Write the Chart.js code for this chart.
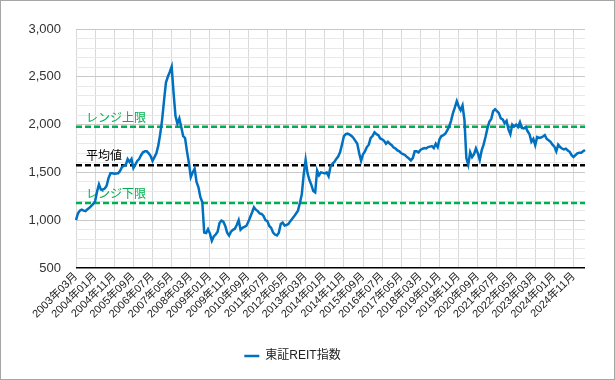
<!DOCTYPE html>
<html>
<head>
<meta charset="utf-8">
<script src="https://cdn.jsdelivr.net/npm/chart.js@4.4.1/dist/chart.umd.min.js"></script>
<style>
  body { margin: 0; background: #fff; }
  #wrap { position: relative; width: 615px; height: 380px; }
  #frame { position: absolute; left: 0; top: 0; width: 615px; height: 380px; box-sizing: border-box; border: 1px solid #a6a6a6; pointer-events: none; }
</style>
</head>
<body>
<div id="wrap">
  <canvas id="reitChart" width="615" height="380"></canvas>
  <div id="frame"></div>
</div>
<script>
// Monthly category labels, 2003年03月 .. 2025年05月
const startYear = 2003, startMonth = 3, monthCount = 267;
const monthLabels = [];
for (let i = 0; i < monthCount; i++) {
    const m = startMonth - 1 + i;
    const y = startYear + Math.floor(m / 12);
    const mm = String(m % 12 + 1).padStart(2, '0');
    monthLabels.push(`${y}年${mm}月`);
}

// 東証REIT指数 (monthly)
const reitIndex = [
    1000, 1070, 1100, 1110, 1100, 1095, 1115, 1130, 1150, 1170,             // 2003
    1200, 1300, 1375, 1320, 1320, 1330, 1360, 1440, 1490, 1490, 1485, 1488, // 2004
    1490, 1515, 1555, 1570, 1575, 1640, 1610, 1640, 1545, 1580, 1620, 1640, // 2005
    1680, 1710, 1720, 1720, 1700, 1670, 1620, 1660, 1700, 1780, 1900, 2050, // 2006
    2250, 2440, 2500, 2550, 2605, 2330, 2090, 2010, 2065, 1975, 1880, 1860, // 2007
    1720, 1600, 1450, 1500, 1540, 1400, 1345, 1240, 1190, 870, 865, 905,    // 2008
    860, 785, 830, 850, 880, 970, 995, 985, 940, 870, 840, 880,             // 2009
    900, 910, 950, 1000, 900, 920, 930, 940, 980, 1030, 1080, 1135,         // 2010
    1110, 1095, 1070, 1065, 1045, 1000, 990, 940, 920, 870, 850, 840,       // 2011
    870, 960, 975, 945, 950, 960, 990, 1015, 1040, 1070, 1100, 1180,        // 2012
    1270, 1480, 1630, 1490, 1420, 1370, 1305, 1290, 1520, 1470, 1500, 1495, // 2013
    1490, 1500, 1460, 1560, 1590, 1610, 1640, 1665, 1710, 1790, 1880, 1900, // 2014
    1905, 1895, 1880, 1860, 1830, 1800, 1700, 1620, 1690, 1720, 1765, 1790, // 2015
    1860, 1880, 1920, 1900, 1890, 1855, 1845, 1830, 1800, 1820, 1800, 1785, // 2016
    1760, 1750, 1730, 1720, 1700, 1690, 1680, 1660, 1645, 1625, 1650, 1720, // 2017
    1720, 1710, 1735, 1745, 1755, 1750, 1765, 1770, 1775, 1755, 1800, 1765, // 2018
    1850, 1880, 1890, 1905, 1940, 1980, 2040, 2120, 2180, 2245, 2190, 2150, // 2019
    2200, 2050, 1650, 1580, 1710, 1660, 1690, 1750, 1700, 1630, 1730, 1790, // 2020
    1870, 1960, 2030, 2060, 2140, 2160, 2140, 2120, 2065, 2055, 2015, 2040, // 2021
    1950, 1900, 2000, 1980, 2000, 1975, 2025, 1965, 1960, 1975, 1930, 1900, // 2022
    1820, 1850, 1785, 1870, 1860, 1865, 1875, 1890, 1850, 1835, 1820, 1790, // 2023
    1770, 1720, 1790, 1765, 1750, 1740, 1748, 1730, 1715, 1680, 1660, 1680, // 2024
    1700, 1705, 1705, 1720, 1735                                            // 2025
];

// Reference lines
const refLabels = ['レンジ上限', '平均値', 'レンジ下限'];
const refValues = [1978, 1576, 1180];

const yMin = 500, yMax = 3000, yMajor = 500, yMinor = 100;
const labelEvery = 10;

const fontFamily = "'Liberation Sans', 'Noto Sans CJK JP', sans-serif";

// Dashed range / average lines drawn on the y scale
const refLinePlugin = {
    id: 'refLines',
    beforeDatasetsDraw(chart) {
        const { ctx, chartArea, scales } = chart;
        const colors = ['#00b050', '#000000', '#00b050'];
        ctx.save();
        refValues.forEach((v, i) => {
            const y = scales.y.getPixelForValue(v);
            ctx.beginPath();
            ctx.setLineDash([6, 3]);
            ctx.lineWidth = 2.5;
            ctx.strokeStyle = colors[i];
            ctx.moveTo(chartArea.left, y);
            ctx.lineTo(chartArea.right, y);
            ctx.stroke();
            ctx.setLineDash([]);
            ctx.fillStyle = colors[i];
            ctx.font = `12px ${fontFamily}`;
            ctx.textBaseline = 'bottom';
            ctx.fillText(refLabels[i], chartArea.left + 10, y - 2);
        });
        ctx.restore();
    }
};

const ctx = document.getElementById('reitChart').getContext('2d');
new Chart(ctx, {
    type: 'line',
    data: {
        labels: monthLabels,
        datasets: [{
            label: '東証REIT指数',
            data: reitIndex,
            borderColor: '#0070c0',
            backgroundColor: '#0070c0',
            borderWidth: 2.5,
            pointRadius: 0,
            tension: 0
        }]
    },
    options: {
        responsive: false,
        animation: false,
        layout: { padding: { top: 29, right: 30, left: 0, bottom: 8 } },
        plugins: {
            legend: {
                position: 'bottom',
                labels: {
                    usePointStyle: true,
                    pointStyle: 'line',
                    pointStyleWidth: 15,
                    color: '#222',
                    font: { family: fontFamily, size: 12 },
                    padding: 10
                }
            },
            tooltip: { enabled: false }
        },
        scales: {
            x: {
                afterBuildTicks: (scale) => {
                    scale.ticks = scale.ticks.filter(t => t.value % labelEvery === 0);
                },
                afterFit: (scale) => { scale.height = 72; },
                ticks: {
                    autoSkip: false,
                    maxRotation: 45,
                    minRotation: 45,
                    color: '#222',
                    font: { family: fontFamily, size: 11 },
                    padding: 2
                },
                grid: { color: '#d9d9d9', drawTicks: false },
                border: { display: false }
            },
            y: {
                min: yMin,
                max: yMax,
                afterFit: (scale) => { scale.width = 76; },
                ticks: {
                    stepSize: yMinor,
                    autoSkip: false,
                    color: '#333',
                    font: { family: fontFamily, size: 13 },
                    padding: 15,
                    callback: (v) => v % yMajor === 0 ? v.toLocaleString('en-US') : ''
                },
                grid: {
                    drawTicks: false,
                    color: (c) => c.tick && c.tick.value === yMin ? '#000000'
                        : (c.tick && c.tick.value % yMajor === 0 ? '#c8c8c8' : '#e8e8e8'),
                    lineWidth: (c) => c.tick && c.tick.value === yMin ? 1.5 : 1
                },
                border: { display: false }
            }
        }
    },
    plugins: [refLinePlugin]
});
</script>
</body>
</html>
